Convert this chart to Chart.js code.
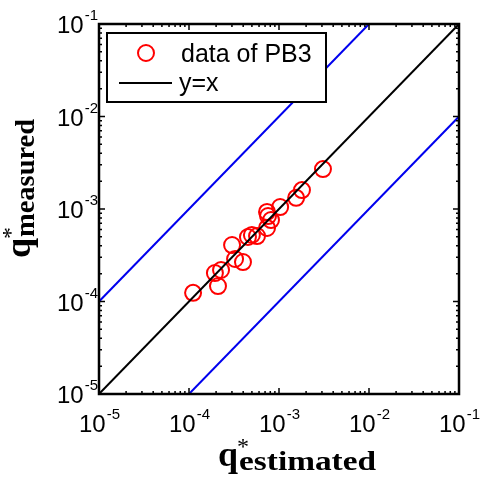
<!DOCTYPE html>
<html>
<head>
<meta charset="utf-8">
<script src="https://cdn.jsdelivr.net/npm/chart.js@4/dist/chart.umd.min.js"></script>
<style>
  html, body { margin: 0; padding: 0; background: #fff; }
  #wrap { width: 480px; height: 477px; }
</style>
</head>
<body>
<div id="wrap"><canvas id="qChart" width="480" height="477"></canvas></div>
<script>
// measured vs estimated q* for PB3
const qEstimated = [1.11e-4, 2.10e-4, 1.94e-4, 2.27e-4, 3.01e-4, 3.25e-4, 3.98e-4, 4.52e-4, 5.0e-4,
                    5.70e-4, 7.36e-4, 7.55e-4, 8.15e-4, 7.36e-4, 1.03e-3, 1.55e-3, 1.80e-3, 3.08e-3];
const qMeasured  = [1.24e-4, 1.47e-4, 2.03e-4, 2.19e-4, 4.08e-4, 2.88e-4, 2.67e-4, 4.98e-4, 5.24e-4,
                    5.10e-4, 9.29e-4, 8.39e-4, 7.60e-4, 6.24e-4, 1.05e-3, 1.32e-3, 1.60e-3, 2.70e-3];

// reference lines: y = x, and the x10 / x0.1 bands
const lineX = [1e-5, 1e-1];
const lineY = [1e-5, 1e-1];
const upperX = [1e-5, 1e-2];
const upperY = [1e-4, 1e-1];
const lowerX = [1e-4, 1e-1];
const lowerY = [1e-5, 1e-2];

const majorExps = [-5, -4, -3, -2, -1];

function toPoints(xs, ys) {
  return xs.map((x, i) => ({ x: x, y: ys[i] }));
}

// "10" with a superscript exponent
function drawPow(ctx, exp, x, y, mode) {
  ctx.save();
  ctx.fillStyle = "#000";
  ctx.textBaseline = "alphabetic";
  ctx.textAlign = "left";
  const base = "10", sup = String(exp);
  ctx.font = "24px 'Liberation Sans', Arial, sans-serif";
  const wb = ctx.measureText(base).width;
  ctx.font = "15px 'Liberation Sans', Arial, sans-serif";
  const ws = ctx.measureText(sup).width;
  let left;
  if (mode === "right") left = x - wb - ws;
  else left = x - (wb + ws) / 2;
  ctx.font = "24px 'Liberation Sans', Arial, sans-serif";
  ctx.fillText(base, left, y);
  ctx.font = "15px 'Liberation Sans', Arial, sans-serif";
  ctx.fillText(sup, left + wb + 1, y - 13);
  ctx.restore();
}

// bold serif q with asterisk and subscript
function drawQTitle(ctx, sub, subWidth) {
  ctx.fillStyle = "#000";
  ctx.textBaseline = "alphabetic";
  ctx.textAlign = "left";
  ctx.font = "bold 36px 'Liberation Serif', 'Times New Roman', serif";
  const wq = ctx.measureText("q").width;
  ctx.fillText("q", 0, 0);
  ctx.font = "24px 'Liberation Serif', 'Times New Roman', serif";
  ctx.fillText("*", wq - 1, -12);
  ctx.font = "bold 27px 'Liberation Serif', 'Times New Roman', serif";
  const ws = ctx.measureText(sub).width;
  ctx.save();
  ctx.translate(wq + 1, 4);
  ctx.scale(subWidth / ws, 1);
  ctx.fillText(sub, 0, 0);
  ctx.restore();
}

const framePlugin = {
  id: "matlabFrame",
  afterDatasetsDraw(chart) {
    const ctx = chart.ctx;
    const a = chart.chartArea;
    const xs = chart.scales.x, ys = chart.scales.y;

    ctx.save();
    // ticks on all four sides, pointing inward
    ctx.strokeStyle = "#000";
    ctx.lineWidth = 1.5;
    ctx.beginPath();
    for (let e = -5; e <= -1; e++) {
      for (let k = 1; k <= 9; k++) {
        const v = k * Math.pow(10, e);
        if (v > 0.1 + 1e-12) continue;
        const len = k === 1 ? 6 : 3;
        const px = xs.getPixelForValue(v);
        const py = ys.getPixelForValue(v);
        ctx.moveTo(px, a.bottom); ctx.lineTo(px, a.bottom - len);
        ctx.moveTo(px, a.top); ctx.lineTo(px, a.top + len);
        ctx.moveTo(a.left, py); ctx.lineTo(a.left + len, py);
        ctx.moveTo(a.right, py); ctx.lineTo(a.right - len, py);
      }
    }
    ctx.stroke();

    // box
    ctx.lineWidth = 2.5;
    ctx.strokeRect(a.left, a.top, a.right - a.left, a.bottom - a.top);

    // tick labels
    majorExps.forEach(e => {
      const v = Math.pow(10, e);
      drawPow(ctx, e, xs.getPixelForValue(v), a.bottom + 38, "center");
      drawPow(ctx, e, a.left - 2, ys.getPixelForValue(v) + 9, "right");
    });

    // axis titles
    ctx.save();
    ctx.translate(218, 466);
    drawQTitle(ctx, "estimated", 137);
    ctx.restore();

    ctx.save();
    ctx.translate(30, 258);
    ctx.rotate(-Math.PI / 2);
    drawQTitle(ctx, "measured", 118);
    ctx.restore();

    // legend
    const ds = chart.data.datasets;
    ctx.fillStyle = "#fff";
    ctx.fillRect(107, 33, 219, 69);
    ctx.lineWidth = 2;
    ctx.strokeStyle = "#000";
    ctx.strokeRect(107, 33, 219, 69);

    ctx.strokeStyle = ds[3].borderColor;
    ctx.lineWidth = ds[3].borderWidth;
    ctx.beginPath();
    ctx.arc(146, 53, ds[3].pointRadius, 0, Math.PI * 2);
    ctx.stroke();

    ctx.strokeStyle = ds[0].borderColor;
    ctx.lineWidth = ds[0].borderWidth;
    ctx.beginPath();
    ctx.moveTo(119, 83); ctx.lineTo(172, 83);
    ctx.stroke();

    ctx.fillStyle = "#000";
    ctx.font = "25px 'Liberation Sans', Arial, sans-serif";
    ctx.textAlign = "left";
    ctx.textBaseline = "alphabetic";
    ctx.fillText(ds[3].label, 181, 62);
    ctx.fillText(ds[0].label, 179, 91);
    ctx.restore();
  }
};

new Chart(document.getElementById("qChart"), {
  type: "scatter",
  data: {
    datasets: [
      {
        label: "y=x",
        data: toPoints(lineX, lineY),
        showLine: true,
        borderColor: "#000",
        borderWidth: 2,
        pointRadius: 0,
        order: 0
      },
      {
        label: "upper",
        data: toPoints(upperX, upperY),
        showLine: true,
        borderColor: "#0000ee",
        borderWidth: 2,
        pointRadius: 0,
        order: 1
      },
      {
        label: "lower",
        data: toPoints(lowerX, lowerY),
        showLine: true,
        borderColor: "#0000ee",
        borderWidth: 2,
        pointRadius: 0,
        order: 2
      },
      {
        label: "data of PB3",
        data: toPoints(qEstimated, qMeasured),
        showLine: false,
        borderColor: "#ff0000",
        backgroundColor: "rgba(0,0,0,0)",
        borderWidth: 2,
        pointRadius: 8,
        pointStyle: "circle",
        order: 3
      }
    ]
  },
  options: {
    responsive: false,
    animation: false,
    layout: { padding: { left: 99, top: 24, right: 21, bottom: 83 } },
    scales: {
      x: { type: "logarithmic", min: 1e-5, max: 1e-1, display: false },
      y: { type: "logarithmic", min: 1e-5, max: 1e-1, display: false }
    },
    plugins: {
      legend: { display: false },
      tooltip: { enabled: false }
    }
  },
  plugins: [framePlugin]
});
</script>
</body>
</html>
